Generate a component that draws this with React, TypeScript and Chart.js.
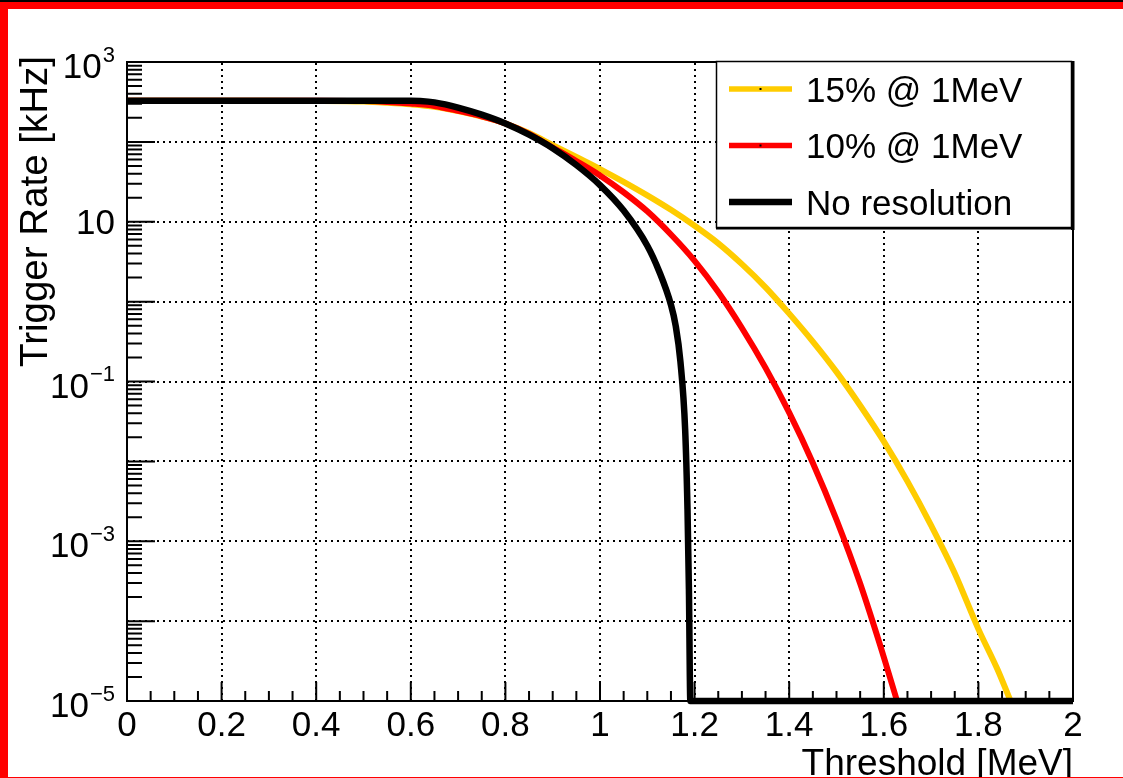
import React, { useEffect, useRef } from "react";
import { Chart, registerables } from "chart.js";

Chart.register(...registerables);

// ---- data (Trigger rate in kHz vs threshold in MeV) ----
const thresholdsNoRes = [0, 0.1, 0.2, 0.3, 0.4, 0.5, 0.55, 0.6, 0.62, 0.65, 0.7, 0.75, 0.8, 0.85, 0.9, 0.95, 1.0, 1.05, 1.1, 1.125, 1.15, 1.16, 1.17, 1.18, 1.185, 1.188, 1.191, 1.2, 1.4, 1.6, 1.8, 2.0];
const rateNoRes = [327, 327, 327, 327, 327, 327, 327, 327, 325, 312, 269, 219, 170, 123, 83.2, 51.3, 28.8, 13.8, 5.01, 2.4, 0.912, 0.5, 0.178, 0.0251, 0.00251, 2.51e-4, 1e-5, 1e-5, 1e-5, 1e-5, 1e-5, 1e-5];

const thresholds10 = [0, 0.1, 0.2, 0.3, 0.4, 0.5, 0.55, 0.6, 0.65, 0.7, 0.75, 0.8, 0.85, 0.9, 0.95, 1.0, 1.05, 1.1, 1.15, 1.2, 1.25, 1.3, 1.35, 1.4, 1.45, 1.5, 1.55, 1.6, 1.628];
const rate10 = [327, 327, 327, 327, 327, 324, 316, 302, 282, 245, 209, 170, 126, 85, 57.5, 38.0, 23.4, 13.5, 6.92, 3.24, 1.32, 0.468, 0.148, 0.0407, 0.00955, 0.00186, 2.95e-4, 3.55e-5, 1e-5];

const thresholds15 = [0, 0.1, 0.2, 0.3, 0.4, 0.5, 0.55, 0.6, 0.65, 0.7, 0.75, 0.8, 0.85, 0.9, 0.95, 1.0, 1.05, 1.1, 1.15, 1.2, 1.25, 1.3, 1.35, 1.4, 1.45, 1.5, 1.55, 1.6, 1.65, 1.7, 1.75, 1.8, 1.84, 1.868];
const rate15 = [327, 327, 327, 327, 326, 320, 309, 295, 275, 243, 207, 170, 129, 91.2, 64.6, 45.7, 31.6, 21.4, 14.1, 8.91, 5.37, 2.95, 1.51, 0.708, 0.316, 0.132, 0.0501, 0.0178, 0.00562, 0.00158, 3.98e-4, 7.94e-5, 2.51e-5, 1e-5];

const xTickValues = [0, 0.2, 0.4, 0.6, 0.8, 1.0, 1.2, 1.4, 1.6, 1.8, 2.0];
const xTickLabels = ["0", "0.2", "0.4", "0.6", "0.8", "1", "1.2", "1.4", "1.6", "1.8", "2"];
const yDecades = [-5, -4, -3, -2, -1, 0, 1, 2, 3];
const yLabelExponents = [3, 1, -1, -3, -5];
const legendLabels = ["15% @ 1MeV", "10% @ 1MeV", "No resolution"];
const legendColors = ["#FFCC00", "#FF0000", "#000000"];
const xTitle = "Threshold [MeV]";
const yTitle = "Trigger Rate [kHz]";

const X_MIN = 0;
const X_MAX = 2;
const Y_MIN = 1e-5;
const Y_MAX = 1e3;

const FONT = '"Liberation Sans", Arial, Helvetica, sans-serif';

const toPoints = (xs: number[], ys: number[]) => xs.map((x, i) => ({ x, y: ys[i] }));

const rootStylePlugin = {
  id: "rootStyle",
  beforeDraw(chart: any) {
    const { ctx, width, height } = chart;
    ctx.save();
    ctx.fillStyle = "#ffffff";
    ctx.fillRect(0, 0, width, height);
    ctx.restore();
  },
  beforeDatasetsDraw(chart: any) {
    const { ctx, chartArea: a, scales } = chart;
    const x = scales.x;
    const y = scales.y;
    ctx.save();
    ctx.strokeStyle = "#000";
    ctx.lineWidth = 2;
    ctx.setLineDash([2, 4]);
    ctx.beginPath();
    xTickValues.forEach((v) => {
      if (v <= X_MIN || v >= X_MAX) return;
      const px = Math.round(x.getPixelForValue(v));
      ctx.moveTo(px, a.bottom);
      ctx.lineTo(px, a.top);
    });
    yDecades.forEach((e) => {
      const v = Math.pow(10, e);
      if (v <= Y_MIN || v >= Y_MAX) return;
      const py = Math.round(y.getPixelForValue(v));
      ctx.moveTo(a.left, py);
      ctx.lineTo(a.right, py);
    });
    ctx.stroke();
    ctx.restore();
  },
  afterDatasetsDraw(chart: any) {
    const { ctx, chartArea: a, scales, width, height } = chart;
    const x = scales.x;
    const y = scales.y;
    ctx.save();
    ctx.setLineDash([]);
    ctx.strokeStyle = "#000";
    ctx.fillStyle = "#000";

    // frame
    ctx.lineWidth = 2;
    ctx.strokeRect(a.left, a.top, a.right - a.left, a.bottom - a.top);

    // x ticks (every 0.05, major every 0.2)
    ctx.beginPath();
    for (let i = 0; i <= 40; i++) {
      const v = X_MIN + (i * (X_MAX - X_MIN)) / 40;
      const px = x.getPixelForValue(v);
      const len = i % 4 === 0 ? 19 : 10;
      ctx.moveTo(px, a.bottom);
      ctx.lineTo(px, a.bottom - len);
    }
    // y ticks
    yDecades.forEach((e) => {
      const base = Math.pow(10, e);
      const py = y.getPixelForValue(base);
      ctx.moveTo(a.left, py);
      ctx.lineTo(a.left + 28, py);
      if (base < Y_MAX) {
        for (let m = 2; m <= 9; m++) {
          const pm = y.getPixelForValue(m * base);
          ctx.moveTo(a.left, pm);
          ctx.lineTo(a.left + 15, pm);
        }
      }
    });
    ctx.stroke();

    // x tick labels
    ctx.font = `35px ${FONT}`;
    ctx.textAlign = "center";
    ctx.textBaseline = "alphabetic";
    xTickValues.forEach((v, i) => {
      ctx.fillText(xTickLabels[i], x.getPixelForValue(v), a.bottom + 35);
    });

    // y tick labels
    const labelRight = a.left - 12;
    yLabelExponents.forEach((e) => {
      const py = y.getPixelForValue(Math.pow(10, e));
      ctx.textAlign = "right";
      if (e === 1) {
        ctx.font = `35px ${FONT}`;
        ctx.fillText("10", labelRight, py + 12.5);
      } else {
        const expStr = e < 0 ? "\u2212" + Math.abs(e) : String(e);
        ctx.font = `22px ${FONT}`;
        const w = ctx.measureText(expStr).width;
        ctx.fillText(expStr, labelRight, py - 0.5);
        ctx.font = `35px ${FONT}`;
        ctx.fillText("10", labelRight - w - 1, py + 16);
      }
    });

    // axis titles
    ctx.font = `37px ${FONT}`;
    ctx.textAlign = "right";
    ctx.fillText(xTitle, a.right, 775);
    ctx.save();
    ctx.font = `38.5px ${FONT}`;
    ctx.translate(47, 56);
    ctx.rotate(-Math.PI / 2);
    ctx.textAlign = "right";
    ctx.fillText(yTitle, 0, 0);
    ctx.restore();

    // legend
    const lx0 = 716, ly0 = 62, lx1 = 1072, ly1 = 228;
    ctx.fillStyle = "#fff";
    ctx.fillRect(lx0, ly0, lx1 - lx0, ly1 - ly0);
    ctx.strokeStyle = "#000";
    ctx.lineWidth = 1.5;
    ctx.strokeRect(lx0 + 0.5, ly0 - 0.5, lx1 - lx0 - 1, ly1 - ly0);
    ctx.fillStyle = "#000";
    ctx.fillRect(lx1 - 1, ly0 - 1, 3.5, ly1 - ly0 + 3);
    ctx.fillRect(lx0, ly1 - 1, lx1 - lx0 + 2, 2.5);
    legendLabels.forEach((label, i) => {
      const cy = 89 + i * 56.5;
      ctx.strokeStyle = legendColors[i];
      ctx.lineWidth = i === 2 ? 6.5 : 5.5;
      ctx.beginPath();
      ctx.moveTo(729, cy);
      ctx.lineTo(792, cy);
      ctx.stroke();
      if (i < 2) {
        ctx.fillStyle = "#000";
        ctx.fillRect(759.5, cy - 1, 2, 2);
      }
      ctx.fillStyle = "#000";
      ctx.font = `35px ${FONT}`;
      ctx.textAlign = "left";
      ctx.fillText(label, 806, cy + 12.5);
    });

    // outer pad border
    ctx.fillStyle = "#FF0000";
    ctx.fillRect(0, 0, width, 9);
    ctx.fillRect(0, 0, 8, height);
    ctx.fillRect(0, height - 1, width, 1);
    ctx.fillStyle = "#000";
    ctx.fillRect(0, 0, width, 2);
    ctx.restore();
  },
};

export default function App() {
  const canvasRef = useRef<HTMLCanvasElement | null>(null);

  useEffect(() => {
    const canvas = canvasRef.current;
    if (!canvas) return;
    const chart = new Chart(canvas, {
      type: "line",
      data: {
        datasets: [
          {
            label: legendLabels[2],
            data: toPoints(thresholdsNoRes, rateNoRes),
            borderColor: legendColors[2],
            borderWidth: 6.5,
            pointRadius: 0,
            cubicInterpolationMode: "monotone",
            clip: false,
          },
          {
            label: legendLabels[1],
            data: toPoints(thresholds10, rate10),
            borderColor: legendColors[1],
            borderWidth: 6,
            pointRadius: 0,
            cubicInterpolationMode: "monotone",
            clip: false,
          },
          {
            label: legendLabels[0],
            data: toPoints(thresholds15, rate15),
            borderColor: legendColors[0],
            borderWidth: 6,
            pointRadius: 0,
            cubicInterpolationMode: "monotone",
            clip: false,
          },
        ],
      },
      options: {
        animation: false,
        responsive: false,
        devicePixelRatio: 1,
        events: [],
        layout: { padding: { left: 127, top: 62, right: 50, bottom: 77 } },
        scales: {
          x: { type: "linear", min: X_MIN, max: X_MAX, display: false },
          y: { type: "logarithmic", min: Y_MIN, max: Y_MAX, display: false },
        },
        plugins: {
          legend: { display: false },
          tooltip: { enabled: false },
        },
      } as any,
      plugins: [rootStylePlugin],
    });
    return () => chart.destroy();
  }, []);

  return (
    <div style={{ position: "absolute", left: 0, top: 0, width: 1123, height: 778 }}>
      <canvas ref={canvasRef} width={1123} height={778} style={{ width: 1123, height: 778, display: "block" }} />
    </div>
  );
}
